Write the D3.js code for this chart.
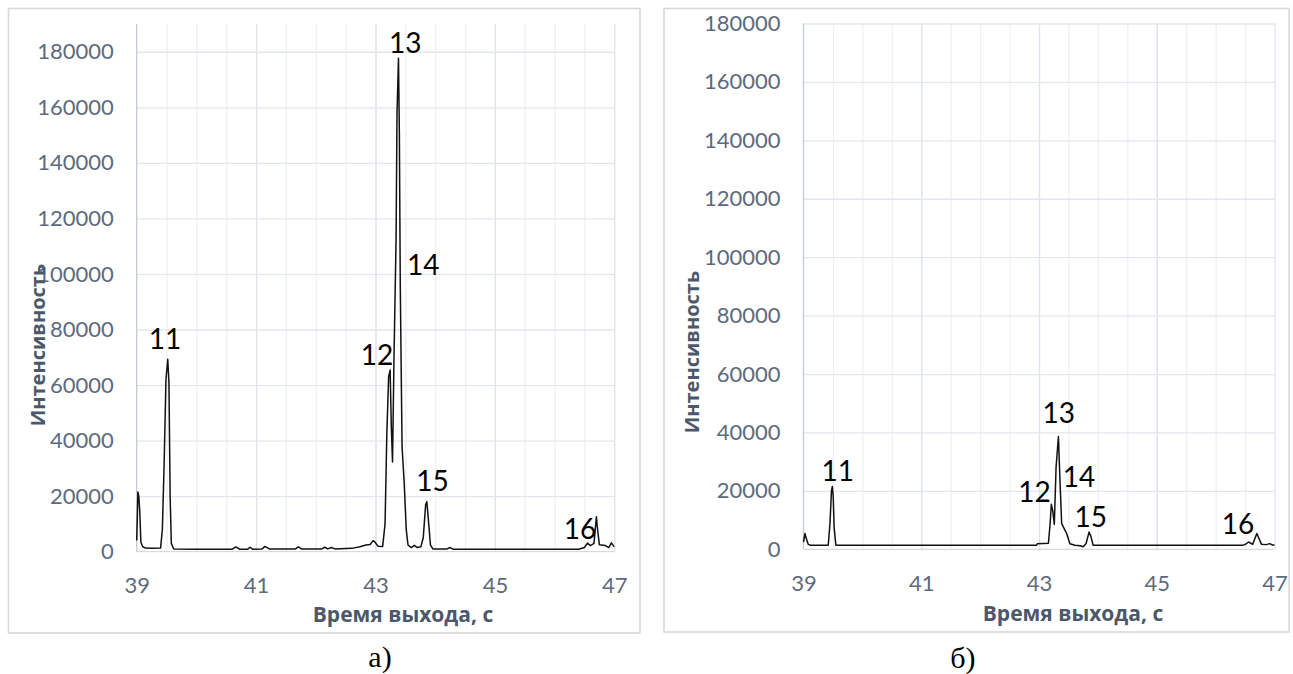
<!DOCTYPE html>
<html>
<head>
<meta charset="utf-8">
<script src="https://cdn.jsdelivr.net/npm/d3@7"></script>
<style>
  html, body { margin: 0; padding: 0; background: #fff; }
  svg { display: block; }
</style>
</head>
<body>
<div id="chart"></div>
<script>
// --- data ---
const xTicks = [39, 41, 43, 45, 47];
const yTicks = [0, 20000, 40000, 60000, 80000, 100000, 120000, 140000, 160000, 180000];

// panel a)
const timeA = [39.00, 39.01, 39.02, 39.035, 39.05, 39.07, 39.10, 39.15, 39.25, 39.40,
  39.43, 39.46, 39.49, 39.52, 39.54, 39.56, 39.58, 39.62, 40.00, 40.60,
  40.66, 40.72, 40.86, 40.90, 40.94, 41.10, 41.15, 41.22, 41.66, 41.71,
  41.76, 42.10, 42.15, 42.20, 42.26, 42.32, 42.60, 42.74, 42.84, 42.91,
  42.96, 42.99, 43.04, 43.12, 43.16, 43.19, 43.22, 43.245, 43.265, 43.285,
  43.31, 43.345, 43.36, 43.385, 43.40, 43.415, 43.43, 43.445, 43.48, 43.515,
  43.545, 43.60, 43.65, 43.70, 43.76, 43.80, 43.84, 43.86, 43.88, 43.92,
  43.96, 44.20, 44.25, 44.30, 46.40, 46.50, 46.55, 46.60, 46.66, 46.70,
  46.72, 46.75, 46.85, 46.91, 46.95, 46.99, 47.00];
const intensityA = [4000, 12000, 21500, 20000, 15000, 3500, 1800, 1300, 1200, 1300,
  8000, 32000, 62000, 69300, 61000, 20000, 3000, 1000, 900, 900,
  1700, 900, 900, 1600, 900, 1000, 1900, 1000, 1000, 1700,
  1000, 1000, 1600, 1000, 1500, 1000, 1200, 1800, 2400, 2600,
  4000, 3500, 2000, 1900, 10000, 42600, 63000, 65400, 45000, 32300,
  70000, 113000, 157500, 177700, 150000, 96000, 66600, 37800, 25000, 8000,
  2400, 1500, 2300, 1500, 1800, 5000, 17000, 18000, 13000, 2500,
  1000, 1000, 1500, 900, 900, 1500, 3100, 2200, 3000, 12600,
  8000, 2500, 2200, 1500, 3200, 2000, 2200];

// panel б)
const timeB = [39.00, 39.025, 39.05, 39.08, 39.12, 39.42, 39.45, 39.475, 39.49, 39.505,
  39.52, 39.55, 42.96, 42.97, 43.16, 43.19, 43.21, 43.235, 43.26, 43.29,
  43.33, 43.355, 43.385, 43.43, 43.47, 43.525, 43.61, 43.70, 43.75, 43.80,
  43.85, 43.88, 43.92, 46.45, 46.50, 46.56, 46.63, 46.70, 46.78, 46.86,
  46.92, 46.96, 47.00];
const intensityB = [2500, 5400, 3500, 1700, 1400, 1400, 8900, 20000, 21500, 18000,
  7600, 1400, 1400, 1900, 2100, 9000, 15400, 13000, 8500, 28100,
  38600, 24200, 8800, 7000, 5400, 1900, 1400, 1200, 850, 2000,
  5900, 4500, 1400, 1400, 1600, 2500, 1700, 5400, 1700, 1600,
  1950, 1500, 1500];

// peak numbers and where they sit (time, intensity)
const peakNames = ['11', '12', '13', '14', '15', '16'];
const peakTimeA = [39.475, 43.025, 43.50, 43.80, 43.955, 46.425];
const peakLevelA = [76500, 70800, 183300, 103400, 25450, 8200];
const peakTimeB = [39.58, 42.925, 43.335, 43.68, 43.88, 46.38];
const peakLevelB = [27000, 19600, 46600, 24700, 11000, 8600];

const xTitle = 'Время выхода, с';
const yTitle = 'Интенсивность';

const width = 1293;
const height = 674;

const svg = d3.select('#chart')
  .append('svg')
  .attr('width', width)
  .attr('height', height);

svg.append('rect')
  .attr('width', width)
  .attr('height', height)
  .attr('fill', '#fff');

function plot(cfg) {
  const g = svg.append('g');

  // outer frame of the excel chart
  g.append('rect')
    .attr('x', cfg.box[0])
    .attr('y', cfg.box[1])
    .attr('width', cfg.box[2] - cfg.box[0])
    .attr('height', cfg.box[3] - cfg.box[1])
    .attr('fill', 'none')
    .attr('stroke', '#d9d9d9')
    .attr('stroke-width', 1.6);

  const x = d3.scaleLinear().domain([39, 47]).range([cfg.left, cfg.right]);
  const y = d3.scaleLinear().domain([0, cfg.yMax]).range([cfg.bottom, cfg.top]);

  // minor vertical gridlines every 0.5 s
  g.append('g')
    .attr('transform', `translate(0,${cfg.bottom})`)
    .call(d3.axisBottom(x).tickValues(d3.range(39.5, 47, 0.5)).tickSize(-(cfg.bottom - cfg.top)).tickFormat(''))
    .call(s => s.select('.domain').remove())
    .call(s => s.selectAll('line').attr('stroke', '#eceff4').attr('stroke-width', 1.2));

  // major vertical gridlines
  g.append('g')
    .attr('transform', `translate(0,${cfg.bottom})`)
    .call(d3.axisBottom(x).tickValues(xTicks.slice(1)).tickSize(-(cfg.bottom - cfg.top)).tickFormat(''))
    .call(s => s.select('.domain').remove())
    .call(s => s.selectAll('line').attr('stroke', '#dfe3ea').attr('stroke-width', 1.3));

  // horizontal gridlines
  g.append('g')
    .attr('transform', `translate(${cfg.left},0)`)
    .call(d3.axisLeft(y).tickValues(yTicks.slice(1)).tickSize(-(cfg.right - cfg.left)).tickFormat(''))
    .call(s => s.select('.domain').remove())
    .call(s => s.selectAll('line').attr('stroke', '#e3e6ec').attr('stroke-width', 1.3));

  // axis lines
  g.append('line')
    .attr('x1', cfg.left).attr('x2', cfg.left)
    .attr('y1', cfg.top).attr('y2', cfg.bottom)
    .attr('stroke', '#c3c9d4').attr('stroke-width', 1.3);
  g.append('line')
    .attr('x1', cfg.left).attr('x2', cfg.right)
    .attr('y1', cfg.bottom).attr('y2', cfg.bottom)
    .attr('stroke', '#d5d9e0').attr('stroke-width', 1.3);

  // tick labels
  const yAxis = g.append('g')
    .attr('transform', `translate(${cfg.left},0)`)
    .call(d3.axisLeft(y).tickValues(yTicks).tickSize(0).tickPadding(23).tickFormat(d3.format('d')));
  const xAxis = g.append('g')
    .attr('transform', `translate(0,${cfg.bottom})`)
    .call(d3.axisBottom(x).tickValues(xTicks).tickSize(0).tickPadding(26).tickFormat(d3.format('d')));
  [xAxis, yAxis].forEach(a => {
    a.select('.domain').remove();
    a.selectAll('text')
      .attr('fill', '#5d6a7e')
      .style('font-family', 'Lato, "Open Sans", sans-serif')
      .style('font-size', '22px');
  });

  // axis titles
  g.append('text')
    .attr('x', cfg.xTitle[0])
    .attr('y', cfg.xTitle[1])
    .attr('dy', '0.35em')
    .attr('fill', '#4b586c')
    .style('font-family', '"Open Sans", sans-serif')
    .style('font-weight', 'bold')
    .style('font-size', '21px')
    .style('text-anchor', 'middle')
    .text(xTitle);

  g.append('text')
    .attr('transform', `translate(${cfg.yTitle[0]},${cfg.yTitle[1]}) rotate(-90)`)
    .attr('dy', '0.35em')
    .attr('fill', '#4b586c')
    .style('font-family', '"Open Sans", sans-serif')
    .style('font-weight', 'bold')
    .style('font-size', '20px')
    .style('text-anchor', 'middle')
    .text(yTitle);

  // the chromatogram
  const line = d3.line()
    .x(d => x(d[0]))
    .y(d => y(d[1]));

  g.append('path')
    .datum(d3.zip(cfg.time, cfg.intensity))
    .attr('d', line)
    .attr('fill', 'none')
    .attr('stroke', '#111')
    .attr('stroke-width', 1.5)
    .attr('stroke-linejoin', 'round');

  // peak numbers
  g.selectAll('.peak')
    .data(d3.zip(peakNames, cfg.peakTime, cfg.peakLevel))
    .enter()
    .append('text')
    .classed('peak', true)
    .attr('x', d => x(d[1]))
    .attr('y', d => y(d[2]))
    .attr('dy', '0.36em')
    .attr('fill', '#000')
    .style('font-family', 'Lato, "Open Sans", sans-serif')
    .style('font-size', '28px')
    .style('text-anchor', 'middle')
    .text(d => d[0]);

  // panel caption
  svg.append('text')
    .attr('x', cfg.caption[0])
    .attr('y', cfg.caption[1])
    .attr('dy', '0.35em')
    .attr('fill', '#000')
    .style('font-family', '"Liberation Serif", "Times New Roman", serif')
    .style('font-size', '30px')
    .style('text-anchor', 'middle')
    .text(cfg.label);
}

plot({
  box: [8.5, 8.5, 640, 633],
  left: 136.7, right: 614.3, top: 24, bottom: 551.7,
  yMax: 190000,
  time: timeA, intensity: intensityA,
  peakTime: peakTimeA, peakLevel: peakLevelA,
  xTitle: [403, 615], yTitle: [38, 345],
  caption: [380, 656], label: 'а)'
});

plot({
  box: [664, 8.5, 1289, 632],
  left: 803.5, right: 1274.5, top: 23.5, bottom: 549.3,
  yMax: 180000,
  time: timeB, intensity: intensityB,
  peakTime: peakTimeB, peakLevel: peakLevelB,
  xTitle: [1073, 614], yTitle: [692, 352],
  caption: [963, 657], label: 'б)'
});
</script>
</body>
</html>
